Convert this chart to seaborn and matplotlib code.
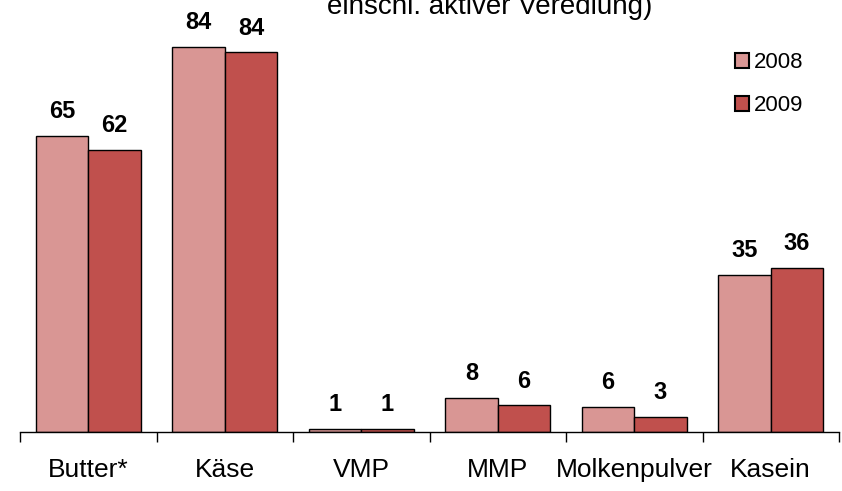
import numpy as np
import pandas as pd
import matplotlib
matplotlib.use("Agg")
import matplotlib.pyplot as plt
import seaborn as sns

categories = ["Butter*", "Käse", "VMP", "MMP", "Molkenpulver", "Kasein"]
years = ["2008", "2009"]
values_2008 = [65, 84.6, 0.7, 7.5, 5.5, 34.5]
values_2009 = [62, 83.4, 0.7, 5.9, 3.3, 36]
labels_2008 = ["65", "84", "1", "8", "6", "35"]
labels_2009 = ["62", "84", "1", "6", "3", "36"]
title_text = "einschl. aktiver Veredlung)"

sns.set_style("white")
plt.rcParams["font.family"] = ["Liberation Sans", "DejaVu Sans"]
plt.rcParams["text.color"] = "black"
plt.rcParams["xtick.color"] = "black"
plt.rcParams["xtick.labelcolor"] = "black"

df = pd.DataFrame({
    "Kategorie": categories * 2,
    "Jahr": [years[0]] * len(categories) + [years[1]] * len(categories),
    "Wert": values_2008 + values_2009,
})

fig = plt.figure(figsize=(8.42, 4.91), dpi=100)
ax = fig.add_axes([20 / 842, 59 / 491, 819 / 842, 410 / 491])

palette = {"2008": "#D99694", "2009": "#C0504D"}
sns.barplot(data=df, x="Kategorie", y="Wert", hue="Jahr", palette=palette,
            width=0.77, gap=0, edgecolor="black", linewidth=1.0,
            saturation=1, errorbar=None, ax=ax)

for cont, labs in zip(ax.containers, [labels_2008, labels_2009]):
    ax.bar_label(cont, labels=labs, padding=9, fontsize=17, fontweight="bold",
                 color="black", clip_on=False)

ax.set_ylim(0, 90)
ax.set_xlim(-0.5, len(categories) - 0.5)
ax.set_xlabel("")
ax.set_ylabel("")
ax.set_yticks([])
for side in ["left", "right", "top"]:
    ax.spines[side].set_visible(False)
ax.spines["bottom"].set_color("black")
ax.spines["bottom"].set_linewidth(1.0)

ax.set_xticks(range(len(categories)))
ax.set_xticklabels(categories, fontsize=19, color="black")
ax.tick_params(axis="x", which="major", length=0, pad=19)
ax.set_xticks(np.arange(-0.5, len(categories)), minor=True)
ax.tick_params(axis="x", which="minor", length=7, width=1, color="black",
               direction="out", bottom=True)

leg = ax.legend(loc="upper left", bbox_to_anchor=(0.862, 0.948), frameon=False,
                fontsize=16, labelspacing=1.0, handlelength=0.65,
                handleheight=0.65, handletextpad=0.2, borderaxespad=0)
for h in leg.legend_handles:
    h.set_edgecolor("black")
    h.set_linewidth(1.5)
for t in leg.get_texts():
    t.set_color("black")

fig.text(0.582, (491 - 14) / 491, title_text, ha="center", va="baseline",
         fontsize=20, color="black")

fig.savefig("out.png", dpi=100)
